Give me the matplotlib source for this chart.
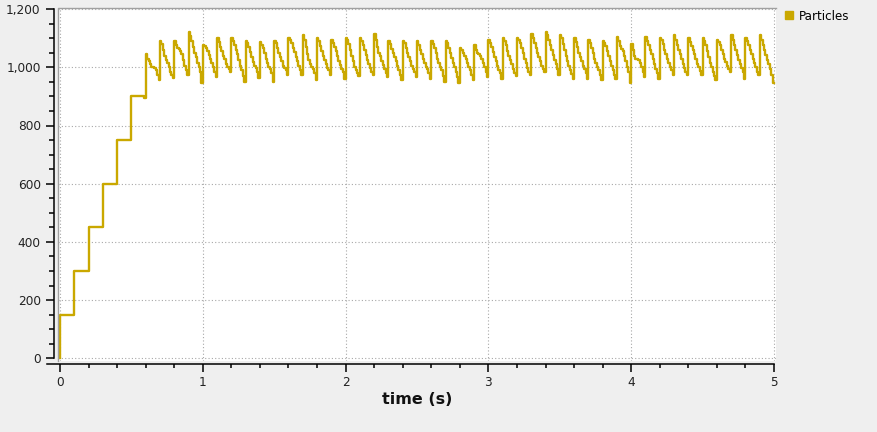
import numpy as np
import matplotlib
matplotlib.use("Agg")
import matplotlib.pyplot as plt
from matplotlib.lines import Line2D

# ---------------- data (particle count sampled every 0.01 s) ----------------
sample_dt = 0.01
start_count = [0]
# ramp-up phase 0.0 .. 0.6 s (one value per 0.01 s)
particles_ramp = [
    150, 150, 150, 150, 150, 150, 150, 150, 150, 150,
    300, 300, 300, 300, 300, 300, 300, 300, 300, 300,
    450, 450, 450, 450, 450, 450, 450, 450, 450, 450,
    600, 600, 600, 600, 600, 600, 600, 600, 600, 600,
    750, 750, 750, 750, 750, 750, 750, 750, 750, 750,
    900, 900, 900, 900, 900, 900, 900, 900, 900, 893,
]
# steady phase 0.6 .. 5.0 s (one row per 0.1 s emission cycle)
particles_steady = [
    1045, 1030, 1020, 1010, 1002, 1000, 998, 990, 975, 955,
    1092, 1080, 1060, 1040, 1025, 1015, 1000, 985, 975, 962,
    1090, 1078, 1068, 1062, 1055, 1045, 1025, 1005, 990, 972,
    1120, 1108, 1092, 1070, 1050, 1035, 1015, 1000, 985, 945,
    1078, 1072, 1065, 1055, 1042, 1030, 1015, 1000, 985, 965,
    1100, 1088, 1070, 1055, 1040, 1028, 1012, 1000, 995, 985,
    1100, 1092, 1075, 1060, 1045, 1025, 1005, 990, 970, 950,
    1092, 1082, 1070, 1052, 1035, 1018, 1005, 998, 985, 962,
    1088, 1078, 1065, 1048, 1030, 1015, 1002, 995, 980, 950,
    1092, 1082, 1068, 1050, 1035, 1022, 1005, 998, 990, 975,
    1102, 1095, 1082, 1065, 1052, 1035, 1020, 1005, 990, 975,
    1110, 1095, 1070, 1045, 1025, 1010, 1000, 995, 980, 955,
    1100, 1090, 1072, 1055, 1040, 1025, 1010, 998, 990, 975,
    1095, 1085, 1070, 1055, 1038, 1022, 1008, 995, 985, 960,
    1100, 1095, 1080, 1060, 1040, 1020, 1000, 990, 980, 970,
    1100, 1090, 1075, 1058, 1042, 1025, 1010, 998, 985, 975,
    1115, 1095, 1070, 1050, 1038, 1022, 1008, 995, 980, 965,
    1090, 1080, 1062, 1048, 1035, 1020, 1005, 992, 975, 955,
    1090, 1082, 1068, 1050, 1035, 1020, 1005, 995, 985, 965,
    1090, 1078, 1060, 1045, 1030, 1015, 1002, 995, 980, 960,
    1090, 1080, 1065, 1048, 1030, 1015, 1000, 990, 970, 950,
    1090, 1082, 1068, 1050, 1032, 1015, 1000, 985, 965, 945,
    1068, 1060, 1050, 1040, 1030, 1015, 1000, 990, 975, 955,
    1075, 1060, 1050, 1045, 1038, 1030, 1015, 1000, 985, 965,
    1095, 1085, 1070, 1052, 1035, 1020, 1005, 992, 980, 960,
    1100, 1090, 1075, 1055, 1040, 1025, 1010, 995, 980, 970,
    1100, 1095, 1082, 1065, 1048, 1030, 1015, 998, 985, 975,
    1115, 1102, 1085, 1065, 1050, 1035, 1020, 1005, 995, 985,
    1120, 1112, 1095, 1075, 1058, 1042, 1025, 1010, 995, 975,
    1110, 1100, 1080, 1060, 1040, 1022, 1005, 992, 978, 960,
    1100, 1088, 1070, 1050, 1035, 1020, 1005, 995, 980, 960,
    1095, 1085, 1068, 1050, 1030, 1015, 1000, 990, 975, 955,
    1090, 1085, 1072, 1055, 1040, 1022, 1005, 992, 975, 960,
    1105, 1090, 1072, 1062, 1055, 1040, 1020, 1000, 985, 945,
    1080, 1060, 1040, 1030, 1028, 1025, 1015, 1000, 985, 965,
    1105, 1092, 1075, 1060, 1045, 1030, 1012, 995, 980, 960,
    1100, 1095, 1080, 1060, 1045, 1030, 1015, 1000, 990, 975,
    1110, 1095, 1075, 1060, 1045, 1028, 1012, 998, 985, 975,
    1100, 1088, 1072, 1058, 1045, 1030, 1012, 1000, 988, 975,
    1100, 1090, 1075, 1055, 1035, 1015, 1000, 985, 970, 955,
    1095, 1088, 1075, 1060, 1045, 1030, 1018, 1005, 995, 985,
    1110, 1095, 1078, 1060, 1042, 1025, 1010, 998, 985, 960,
    1100, 1090, 1075, 1060, 1045, 1030, 1015, 1000, 985, 975,
    1110, 1095, 1075, 1058, 1042, 1025, 1010, 995, 975, 945,
]
series_label = "Particles"
x_label = "time (s)"
x_ticks = [0, 1, 2, 3, 4, 5]
y_ticks = [0, 200, 400, 600, 800, 1000, 1200]

particles = np.array(start_count + particles_ramp + particles_steady, dtype=float)
time_s = np.arange(len(particles)) * sample_dt

# ---------------- styling ----------------
W, H, DPI = 877, 432, 100
LINE_COLOR = "#CAA800"
BG = "#efefef"

plt.rcParams["font.family"] = ["DejaVu Sans"]
plt.rcParams["lines.scale_dashes"] = False

fig = plt.figure(figsize=(W / DPI, H / DPI), dpi=DPI, facecolor=BG)
# axes white area: x 58..776 px, y 7.5..361 px (from top)
ax_l, ax_r, ax_t, ax_b = 58, 776, 7.5, 361
ax = fig.add_axes([ax_l / W, 1 - ax_b / H, (ax_r - ax_l) / W, (ax_b - ax_t) / H])
ax.set_facecolor("white")

ax.step(time_s, particles, where="pre", color=LINE_COLOR, lw=1.7, zorder=3)

px_per_x = (774 - 60) / 5.0
px_per_y = (358.3 - 9.1) / 1200.0
ax.set_xlim(-(60 - ax_l) / px_per_x, 5 + (ax_r - 774) / px_per_x)
ax.set_ylim(-(ax_b - 358.3) / px_per_y, 1200 + (9.1 - ax_t) / px_per_y)

ax.set_xticks(x_ticks)
ax.set_xticks(np.arange(0, 5.01, 0.2), minor=True)
ax.set_yticks(y_ticks)
ax.set_yticklabels([f"{v:,}" for v in y_ticks])
ax.set_yticks(np.arange(0, 1201, 50), minor=True)

ax.grid(True, which="major", color="#a8a8a8", lw=0.8, linestyle=(0, (0.8, 1.6)), zorder=1)

for s in ["top", "right"]:
    ax.spines[s].set_visible(False)
ax.spines["left"].set_position(("outward", 3))
ax.spines["bottom"].set_position(("outward", 2.5))
ax.spines["left"].set_bounds(0, 1200)
ax.spines["bottom"].set_bounds((47 - 60) / px_per_x, 5)
for s in ["left", "bottom"]:
    ax.spines[s].set_color("black")
    ax.spines[s].set_linewidth(1.1)

ax.tick_params(axis="both", which="major", length=6, width=1.1, colors="black",
               labelsize=8.7, labelcolor="#222222")
ax.tick_params(axis="y", which="minor", length=3.6, width=1.1, colors="black")
ax.tick_params(axis="x", which="minor", length=3.2, width=1.1, colors="black")
ax.tick_params(axis="y", which="major", pad=3.5)
ax.tick_params(axis="x", which="major", pad=2.5)

# gray frame on left and top of plotting area
ax.add_line(Line2D([0, 0, 1], [0, 1, 1], transform=ax.transAxes, color="#a0a0a0",
                   lw=1.0, clip_on=False, zorder=4))

ax.set_xlabel(x_label, fontsize=11.5, fontweight="bold", color="#111111", labelpad=2)

handle = Line2D([], [], color=LINE_COLOR, marker="s", linestyle="none", markersize=5.2)
fig.legend([handle], [series_label], loc="center left",
           bbox_to_anchor=(784 / W, 1 - 16 / H), frameon=False, fontsize=8.6,
           handlelength=0.9, handletextpad=0.35, borderpad=0, borderaxespad=0)

fig.savefig("out.png", dpi=DPI, facecolor=BG)
